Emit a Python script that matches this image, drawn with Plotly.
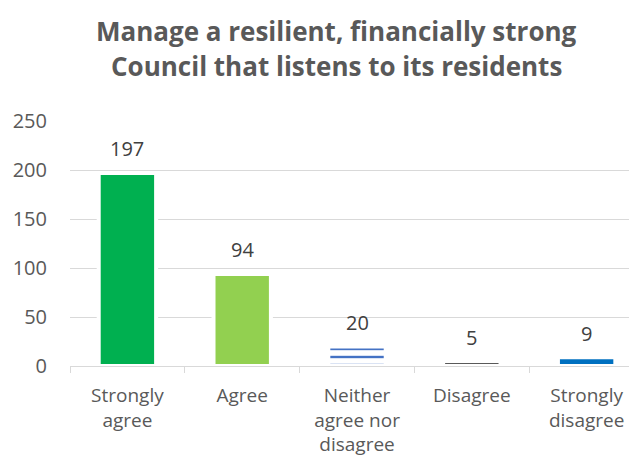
import plotly.graph_objects as go

categories = ["Strongly<br>agree", "Agree", "Neither<br>agree nor<br>disagree", "Disagree", "Strongly<br>disagree"]
values = [197, 94, 20, 5, 9]
bar_colors = ["#00B050", "#92D050", "#4472C4", "#595959", "#0070C0"]
bar_patterns = ["", "", "-", "", ""]
title_lines = ["Manage a resilient, financially strong", "Council that listens to its residents"]
y_ticks = [0, 50, 100, 150, 200, 250]

FONT = "Open Sans"
OFF = 8  # page body margin
W, H = 637 - OFF, 466 - OFF
ML, MR, MT, MB = 70 - OFF, 1, 121 - OFF, 100
PW, PH = W - ML - MR, H - MT - MB

fig = go.Figure()
fig.add_trace(go.Bar(
    x=categories, y=values,
    marker=dict(color=bar_colors, line=dict(color="white", width=4),
                pattern=dict(shape=bar_patterns, fillmode="replace", bgcolor="white",
                             size=8, solidity=0.3)),
    width=0.5,
    showlegend=False,
    hoverinfo="skip",
))

for c, v in zip(categories, values):
    fig.add_annotation(x=c, y=v, text=str(v), showarrow=False, yanchor="middle",
                       yshift=24, font=dict(family=FONT, size=20, color="#404040"))

title_y_px = [31, 66]
for line, ypx in zip(title_lines, title_y_px):
    fig.add_annotation(xref="paper", yref="paper", x=(336 - OFF - ML) / PW, xanchor="center",
                       y=(H - MB - (ypx - OFF)) / PH, yanchor="middle", text=f"<b>{line}</b>",
                       showarrow=False, font=dict(family=FONT, size=26, color="#595959"))

fig.update_layout(
    width=W, height=H,
    margin=dict(l=ML, r=MR, t=MT, b=MB),
    paper_bgcolor="white", plot_bgcolor="white",
)

fig.update_xaxes(
    range=[-0.5, 4.43],
    showline=True, linecolor="#D9D9D9", linewidth=1,
    ticks="outside", tickson="boundaries", ticklen=6, tickcolor="#D9D9D9",
    ticklabelstandoff=12,
    tickfont=dict(family=FONT, size=19, color="#595959"),
    showgrid=False,
)
fig.update_yaxes(
    range=[0, 250], tickvals=y_ticks,
    showgrid=True, gridcolor="#D9D9D9", gridwidth=1,
    zeroline=False, showline=False, ticks="",
    ticklabelstandoff=22,
    tickfont=dict(family=FONT, size=20, color="#595959"),
)

fig.write_html("out.html")
